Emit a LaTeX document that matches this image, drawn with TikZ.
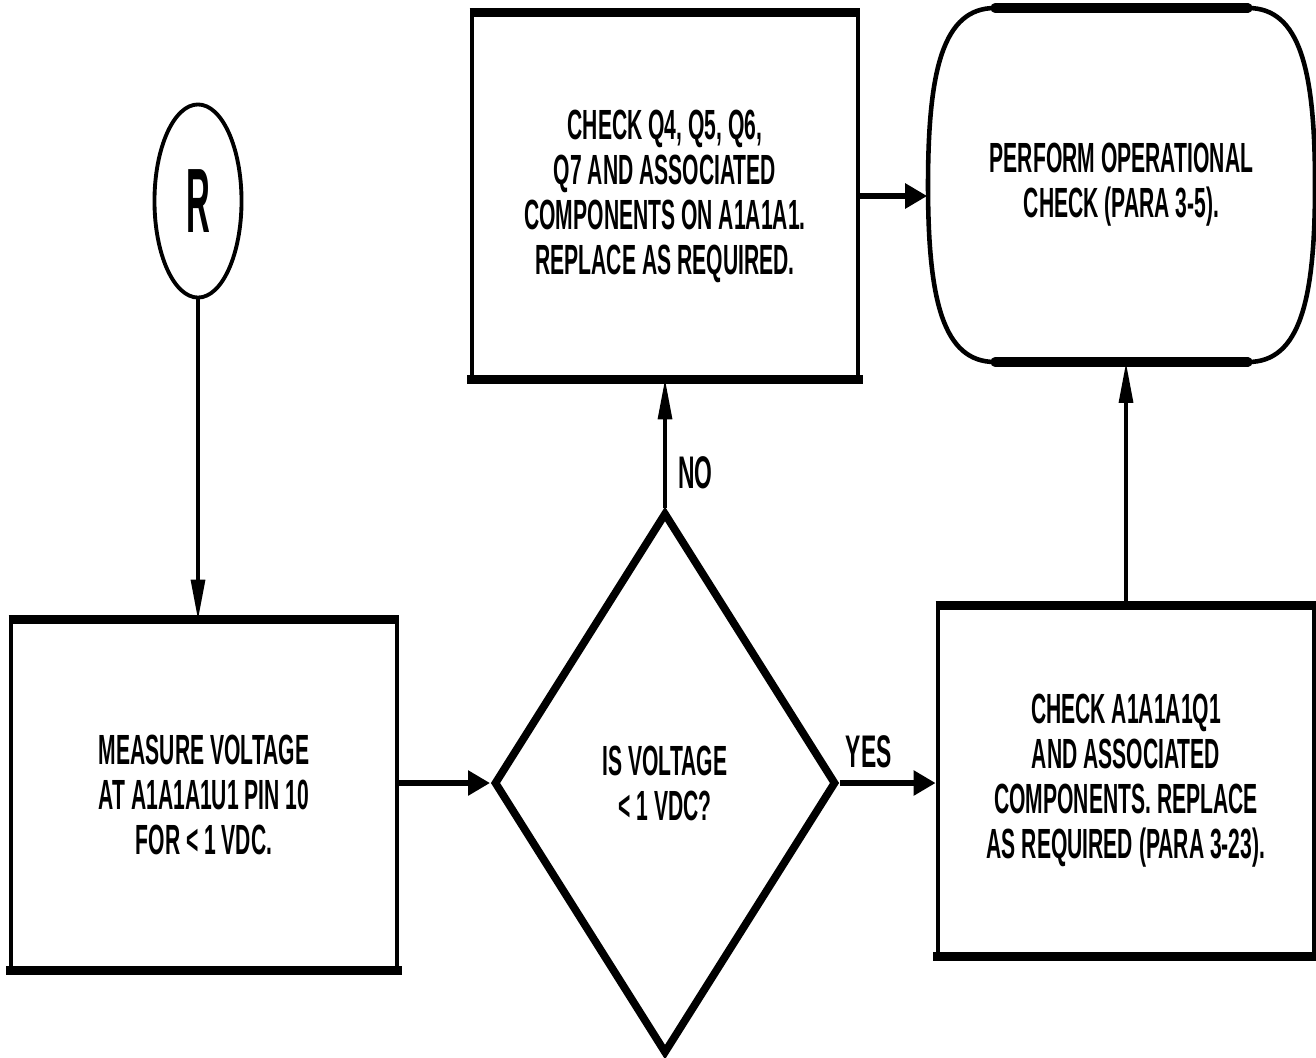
\documentclass[tikz,border=0pt]{standalone}
\usepackage{fontspec}
\setmainfont{Liberation Sans}[FakeStretch=0.5]
\newfontfamily\rfont{Liberation Sans}[FakeStretch=0.36]
\usepackage{tikz}
\usetikzlibrary{arrows.meta,shapes.geometric}
\tikzset{
txt/.style={font=\bfseries\fontsize{12}{12.8}\selectfont,align=center,inner sep=0pt},
box/.style={txt,draw,line width=1.3pt},
thinarr/.style={line width=0.9pt,-{Triangle[length=0.4cm,width=0.14cm]}},
thickarr/.style={line width=1.8pt,-{Triangle[length=0.22cm,width=0.24cm]}},
lbl/.style={font=\bfseries\fontsize{13}{13}\selectfont}
}
\begin{document}
\begin{tikzpicture}[x=0.01cm,y=-0.01cm]
\useasboundingbox(0,0)rectangle(1316,1057);
\node[draw,ellipse,line width=1.1pt,minimum width=0.87cm,minimum height=1.93cm,inner sep=0pt,font=\rfont\bfseries\fontsize{26}{26}\selectfont](circR)at(198,201){R};
\node[box,minimum width=3.86cm,minimum height=3.46cm](meas)at(204,795){MEASURE VOLTAGE\\AT A1A1A1U1 PIN 10\\FOR < 1 VDC.};
\node[txt,draw,diamond,line width=2.2pt,minimum width=3.42cm,minimum height=5.41cm](isv)at(665,783){IS VOLTAGE\\< 1 VDC?};
\node[box,minimum width=3.86cm,minimum height=3.62cm](chkq)at(665,196){CHECK Q4, Q5, Q6,\\Q7 AND ASSOCIATED\\COMPONENTS ON A1A1A1.\\REPLACE AS REQUIRED.};
\node[txt,minimum width=3.87cm,minimum height=3.54cm](perf)at(1121.5,185){PERFORM OPERATIONAL\\CHECK (PARA 3-5).};
\node[box,minimum width=3.76cm,minimum height=3.47cm](chka)at(1126,781){CHECK A1A1A1Q1\\AND ASSOCIATED\\COMPONENTS. REPLACE\\AS REQUIRED (PARA 3-23).};
\draw[line width=1.3pt](995,8)--(1248,8)..controls(1300,8)and(1315,70)..(1315,185)
..controls(1315,300)and(1300,362)..(1248,362)--(995,362)
..controls(943,362)and(928,300)..(928,185)..controls(928,70)and(943,8)..cycle;
\draw[line width=2.6pt,line cap=round](995,8)--(1248,8)(995,362)--(1248,362);
\foreach \b in {meas,chkq,chka}
\draw[line width=2.6pt,shorten <=-0.65pt,shorten >=-0.65pt](\b.north west)--(\b.north east)(\b.south west)--(\b.south east);
\draw[thinarr](circR)--(circR|-meas.north);
\draw[thickarr](meas.east|-isv.west)--(isv.west);
\draw[thinarr](isv.north)--node[lbl,right,pos=0.28]{NO}(isv.north|-chkq.south);
\draw[thickarr](isv.east)--node[lbl,above,pos=0.3]{YES}(isv.east-|chka.west);
\draw[thickarr](chkq.east)--(chkq.east-|perf.west);
\draw[thinarr](chka.north)--(chka.north|-perf.south);
\end{tikzpicture}
\end{document}
